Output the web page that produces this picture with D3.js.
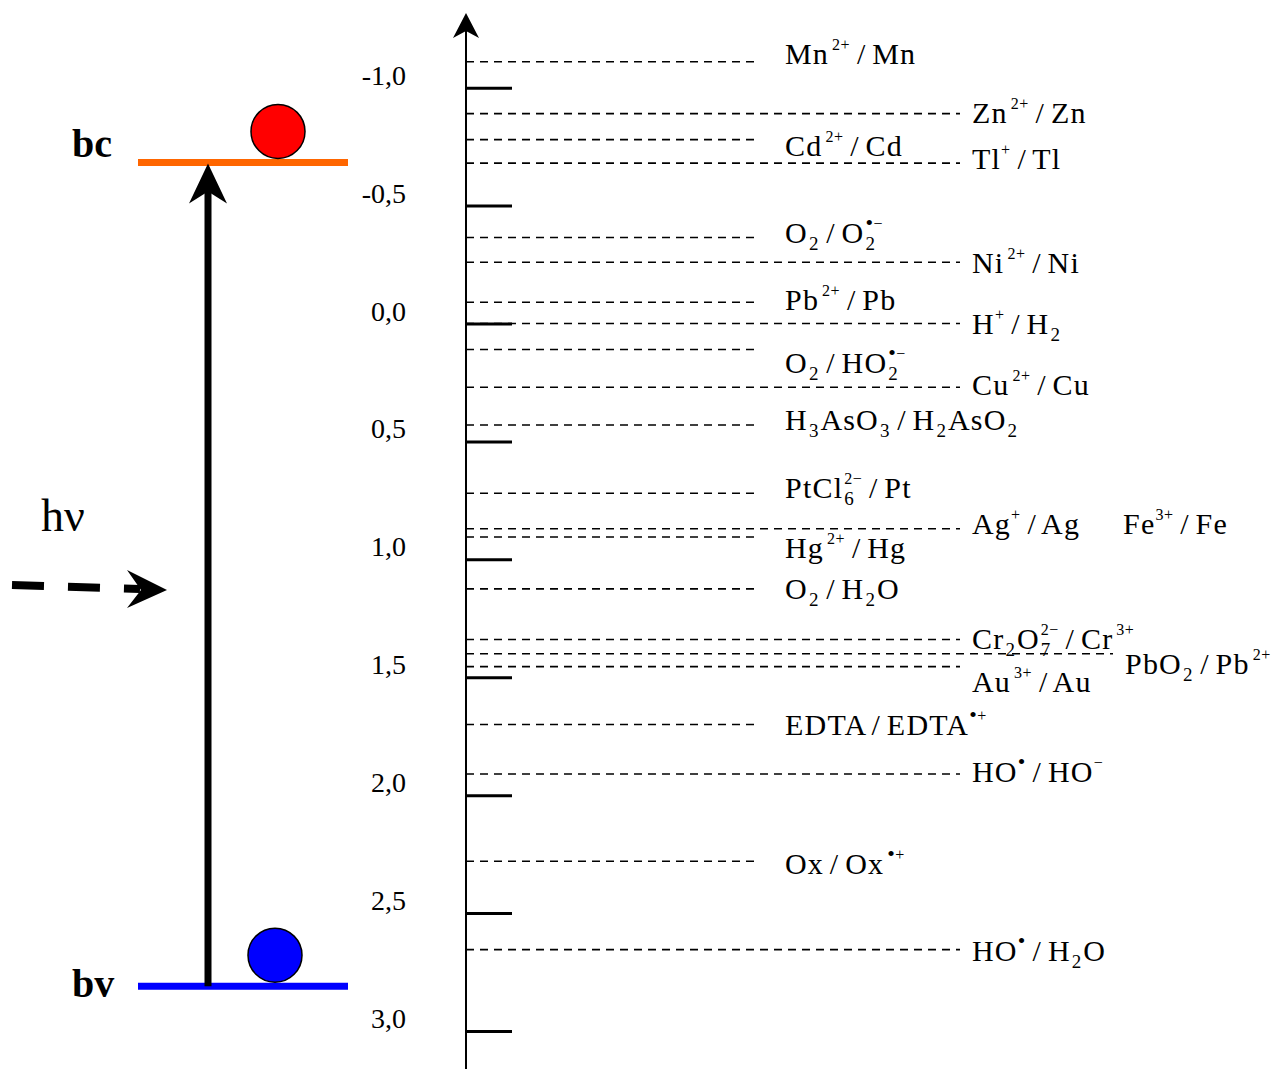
<!DOCTYPE html>
<html>
<head>
<meta charset="utf-8">
<script src="https://cdn.jsdelivr.net/npm/d3@7"></script>
<style>
body { margin: 0; background: #fff; }
svg { display: block; }
text { font-family: "Liberation Serif", "Times New Roman", serif; fill: #000; white-space: pre; }
</style>
</head>
<body>
<svg id="chart" width="1274" height="1069"></svg>
<script>
// redox couples (markup: _{sub} ^{sup}, sub followed by sup is stacked)
var coupleLabels = [
    "Mn^{ 2+} / Mn", "Zn^{ 2+} / Zn", "Cd^{ 2+} / Cd", "Tl^{+} / Tl",
    "O_{2} / O_{2}^{•−}", "Ni^{ 2+} / Ni", "Pb^{ 2+} / Pb", "H^{+} / H_{2}",
    "O_{2} / HO_{2}^{•−}", "Cu^{ 2+} / Cu", "H_{3}AsO_{3} / H_{2}AsO_{2}", "PtCl_{6}^{2−} / Pt",
    "Ag^{+} / Ag", "Hg^{ 2+} / Hg", "O_{2} / H_{2}O", "Cr_{2}O_{7}^{2−} / Cr^{ 3+}",
    "PbO_{2} / Pb^{ 2+}", "Au^{ 3+} / Au", "EDTA / EDTA^{•+}", "HO^{•} / HO^{−}",
    "Ox / Ox^{ •+}", "HO^{•} / H_{2}O"
];
// potentials (V)
var couplePotentials = [
    -1.11, -0.89, -0.78, -0.68,
    -0.365, -0.26, -0.09, 0.0,
    0.11, 0.27, 0.43, 0.72,
    0.87, 0.905, 1.125, 1.34,
    1.40, 1.455, 1.70, 1.91,
    2.28, 2.655
];
// which label column each couple sits in (1 near, 2 far, 3 outer)
var coupleColumn = [
    1, 2, 1, 2,
    1, 2, 1, 2,
    1, 2, 1, 1,
    2, 1, 1, 2,
    3, 2, 1, 2,
    1, 2
];
// couple written beside Ag+/Ag, with no line of its own
var extraLabels = ["Fe^{3+} / Fe"];
var extraPotentials = [0.87];

var tickValues = [-1, -0.5, 0, 0.5, 1, 1.5, 2, 2.5, 3];
var tickLabels = ["-1,0", "-0,5", "0,0", "0,5", "1,0", "1,5", "2,0", "2,5", "3,0"];

var bandNames = ["bc", "bv"];
var bandPotentials = [-0.683, 2.81];

// ---- layout ----
var bandColors = ["#ff6600", "#0000ff"];
var ballColors = ["#ff0000", "#0000ff"];
var bandLabelDy = [-5, 11];
var columnX = { 1: 785, 2: 972, 3: 1125 };
var lineEndX = { 1: 760, 2: 960, 3: 1113 };
// label baseline below its line, px
var labelDrop = [2, 9, 16, 6, 6, 11, 8, 10, 24, 8, 5, 5, 5, 21, 10, 9, 20, 25, 11, 8, 13, 11];
var labelSize = 30, supSize = 16, subSize = 19, supDy = -14, subDy = 7;

var svg = d3.select("#chart");
var axisX = 466;

var y = d3.scaleLinear().domain([-1, 3]).range([87.7, 1031]);

// dashed couple lines
svg.append("g").selectAll("line")
    .data(couplePotentials)
    .enter().append("line")
    .attr("x1", axisX)
    .attr("x2", function(d, i) { return lineEndX[coupleColumn[i]]; })
    .attr("y1", function(d) { return y(d); })
    .attr("y2", function(d) { return y(d); })
    .attr("stroke", "#000")
    .attr("stroke-width", 1.6)
    .attr("stroke-dasharray", "8,6");

// draw one piece of text and return its width; radical dots drawn a bit bigger
function piece(g, s, x, yy, size, spacing) {
    var t = g.append("text").attr("x", x).attr("y", yy)
        .style("font-size", size + "px")
        .style("letter-spacing", spacing + "px")
        .style("word-spacing", (-2 * spacing - 0.5) + "px");
    s.split(/(•)/).forEach(function(part) {
        if (!part) return;
        var ts = t.append("tspan").text(part);
        if (part == "•") ts.style("font-size", (size * 1.35) + "px").attr("dy", 1);
        else if (ts.node().previousSibling) ts.attr("dy", -1);
    });
    return t.node().getComputedTextLength();
}

// lay out a label with sub/superscripts
function drawLabel(g, markup, x, yy) {
    var re = /_\{([^}]*)\}\^\{([^}]*)\}|\^\{([^}]*)\}|_\{([^}]*)\}|([^_^]+)/g, m, cx = x;
    while ((m = re.exec(markup))) {
        if (m[1] != null) {
            var a = piece(g, m[1], cx + 1, yy + subDy, subSize, 1);
            var b = piece(g, m[2], cx + 1, yy + supDy, supSize, 0.5);
            cx += Math.max(a, b) + 2;
        } else if (m[3] != null) {
            cx += piece(g, m[3], cx, yy + supDy, supSize, 0.5) + 1;
        } else if (m[4] != null) {
            cx += piece(g, m[4], cx + 1, yy + subDy, subSize, 1) + 2;
        } else {
            cx += piece(g, m[5], cx, yy, labelSize, 1.2);
        }
    }
}

var labels = svg.append("g");
coupleLabels.forEach(function(s, i) {
    drawLabel(labels.append("g"), s, columnX[coupleColumn[i]], y(couplePotentials[i]) + labelDrop[i]);
});
extraLabels.forEach(function(s, i) {
    drawLabel(labels.append("g"), s, columnX[3] - 2, y(extraPotentials[i]) + 5);
});

// vertical potential axis: ticks to the right, labels far left
var axis = d3.axisLeft(y)
    .tickValues(tickValues)
    .tickFormat(function(d, i) { return tickLabels[i]; })
    .tickSizeInner(-46)
    .tickSizeOuter(0)
    .tickPadding(60);

var ag = svg.append("g").attr("transform", "translate(" + axisX + ",0)").call(axis);
ag.select(".domain").remove();
ag.selectAll(".tick line").attr("stroke", "#000").attr("stroke-width", 3);
ag.selectAll(".tick text")
    .attr("dy", "-3.5")
    .style("font-size", "28px")
    .style("font-family", "Liberation Serif, serif")
    .attr("fill", "#000");

svg.append("line")
    .attr("x1", axisX).attr("x2", axisX)
    .attr("y1", 25).attr("y2", 1069)
    .attr("stroke", "#000").attr("stroke-width", 2);
svg.append("path")
    .attr("d", "M" + axisX + ",13 L" + (axisX - 13) + ",38 L" + axisX + ",31 L" + (axisX + 13) + ",38 Z")
    .attr("fill", "#000");

// bands of the semiconductor
var bands = svg.append("g");
bands.selectAll("line")
    .data(bandPotentials)
    .enter().append("line")
    .attr("x1", 138).attr("x2", 348)
    .attr("y1", function(d) { return y(d); })
    .attr("y2", function(d) { return y(d); })
    .attr("stroke", function(d, i) { return bandColors[i]; })
    .attr("stroke-width", 7);

bands.selectAll("circle")
    .data(bandPotentials)
    .enter().append("circle")
    .attr("cx", function(d, i) { return i ? 275 : 278; })
    .attr("cy", function(d) { return y(d) - 31; })
    .attr("r", 27)
    .attr("fill", function(d, i) { return ballColors[i]; })
    .attr("stroke", "#000")
    .attr("stroke-width", 1.5);

bands.selectAll("text")
    .data(bandNames)
    .enter().append("text")
    .attr("x", 72)
    .attr("y", function(d, i) { return y(bandPotentials[i]) + bandLabelDy[i]; })
    .style("font-size", "40px")
    .style("font-weight", "bold")
    .text(function(d) { return d; });

// excitation arrow from bv up to bc
var arrowX = 208, arrowTop = y(bandPotentials[0]) + 1, arrowBot = y(bandPotentials[1]);
svg.append("line")
    .attr("x1", arrowX).attr("x2", arrowX)
    .attr("y1", arrowBot).attr("y2", arrowTop + 25)
    .attr("stroke", "#000").attr("stroke-width", 7);
svg.append("path")
    .attr("d", "M" + arrowX + "," + arrowTop + " L" + (arrowX - 19) + "," + (arrowTop + 40) +
        " L" + arrowX + "," + (arrowTop + 28) + " L" + (arrowX + 19) + "," + (arrowTop + 40) + " Z")
    .attr("fill", "#000");

// photon: h nu and dashed arrow
svg.append("text")
    .attr("x", 41).attr("y", 531)
    .style("font-size", "46px")
    .text("hν");
svg.append("line")
    .attr("x1", 12).attr("y1", 585)
    .attr("x2", 140).attr("y2", 589)
    .attr("stroke", "#000").attr("stroke-width", 8)
    .attr("stroke-dasharray", "32,24");
svg.append("path")
    .attr("d", "M167,590 L127,570 L141,590 L127,608 Z")
    .attr("fill", "#000");
</script>
</body>
</html>
